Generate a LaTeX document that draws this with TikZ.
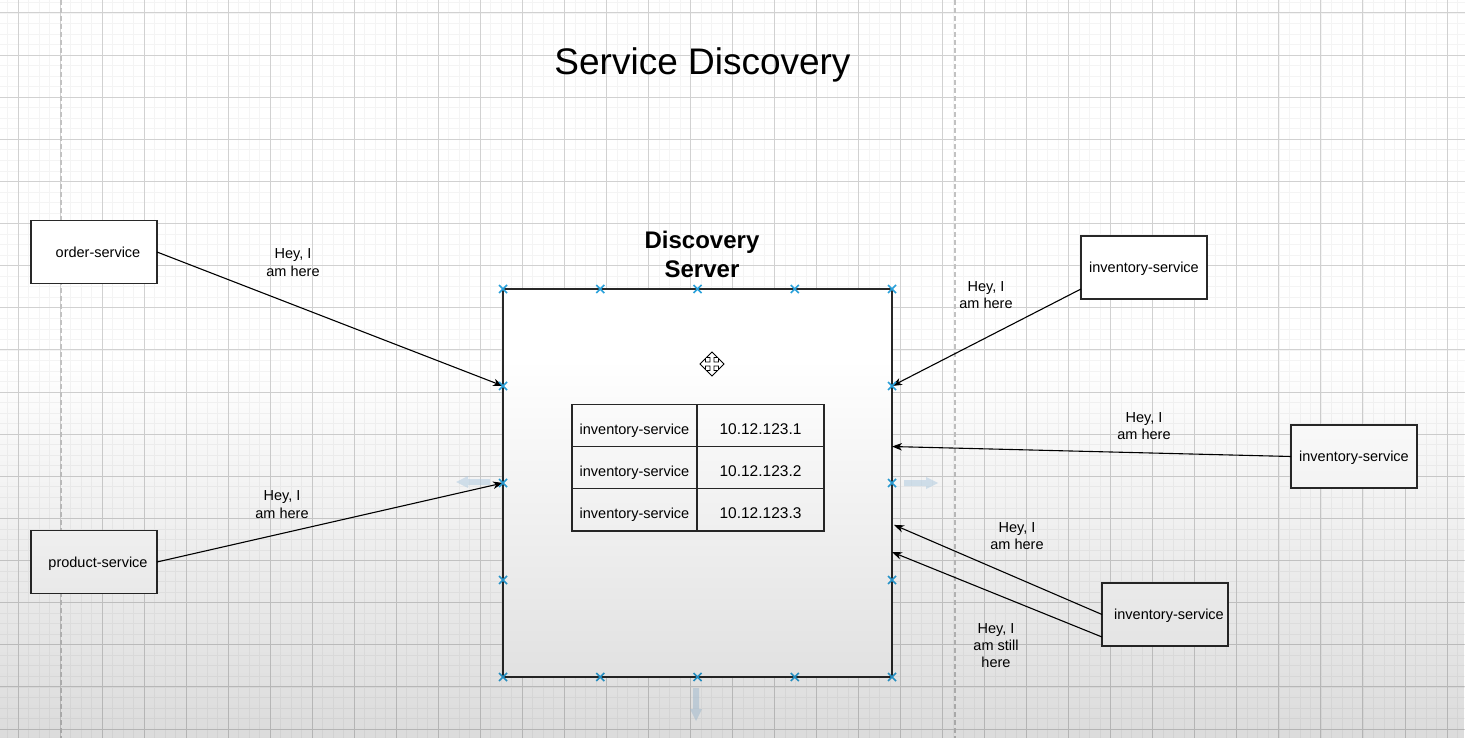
\documentclass[tikz,border=0pt]{standalone}
\usepackage{fontspec}
\setmainfont{Liberation Sans}
\usetikzlibrary{calc,arrows.meta,fadings}

\definecolor{markblue}{RGB}{41,160,218}
\definecolor{hoverblue}{RGB}{186,214,236}
\definecolor{edgegray}{RGB}{40,40,40}

% soft shade that darkens the lower part of the canvas
\tikzfading[name=shadebottom, top color=transparent!100, bottom color=transparent!86]

\tikzset{
  gridminor/.style={draw=black!4.5, line width=0.8pt},
  gridmajor/.style={draw=black!18, line width=1pt},
  pageline/.style={draw=black!24, line width=1.5pt, dash pattern=on 5pt off 3pt},
  svc/.style={draw=edgegray, line width=1.3pt, fill=white, minimum width=126pt,
    minimum height=63pt, inner sep=0pt, outer sep=0pt,
    font=\fontsize{14.5}{17.4}\selectfont, text height=10.5pt, text depth=0pt},
  serverbox/.style={draw=edgegray, line width=1.3pt, fill=white, minimum width=389pt,
    minimum height=388pt, inner sep=0pt, outer sep=0pt},
  cell/.style={draw=edgegray, line width=1.3pt, fill=white, minimum height=42.2pt,
    inner sep=0pt, outer sep=0pt, font=\fontsize{14.5}{17.4}\selectfont,
    text height=18pt, text depth=0pt},
  ipcell/.style={font=\fontsize{15.5}{18}\selectfont},
  lbl/.style={anchor=north, align=center, inner sep=0pt,
    font=\fontsize{14.5}{17.4}\selectfont},
  conn/.style={draw=black, line width=1.1pt,
    -{Stealth[length=10pt,width=7.5pt,inset=3pt]}},
  xmark/.style={draw=markblue, line width=1.5pt},
  hover/.style={fill=hoverblue, fill opacity=0.55},
}

\begin{document}
\begin{tikzpicture}[x=1pt,y=-1pt]
\useasboundingbox (0,0) rectangle (1465,738);
\fill[white] (0,0) rectangle (1465,738);

% canvas grid
\begin{scope}
  \clip (0,0) rectangle (1465,738);
  \foreach \i in {-2,...,138} \draw[gridminor] ({18+10.5075*\i},0) -- ++(0,738);
  \foreach \j in {-2,...,69} \draw[gridminor] (0,{13+10.53*\j}) -- ++(1465,0);
  \foreach \i in {0,...,34} \draw[gridmajor] ({18+42.03*\i},0) -- ++(0,738);
  \foreach \j in {0,...,17} \draw[gridmajor] (0,{13+42.12*\j}) -- ++(1465,0);
  \draw[pageline] (61,0) -- (61,738);
  \draw[pageline] (955,0) -- (955,738);
\end{scope}

% discovery server with its registry table
\node[serverbox] (server) at (697.5,483) {};
\node[cell, minimum width=125pt] (n1) at (634.5,425.4) {inventory-service};
\node[cell, ipcell, minimum width=127pt] (a1) at (760.5,425.4) {10.12.123.1};
\node[cell, minimum width=125pt] (n2) at (634.5,467.6) {inventory-service};
\node[cell, ipcell, minimum width=127pt] (a2) at (760.5,467.6) {10.12.123.2};
\node[cell, minimum width=125pt] (n3) at (634.5,509.8) {inventory-service};
\node[cell, ipcell, minimum width=127pt] (a3) at (760.5,509.8) {10.12.123.3};

% move cursor
\begin{scope}[shift={(712,364)}]
  \draw[fill=white, draw=black, line width=0.9pt, line join=miter]
    (0,-12) -- (5.5,-6.5) -- (2,-6.5) -- (2,-2) -- (6.5,-2) -- (6.5,-5.5) -- (12,0) -- (6.5,5.5)
    -- (6.5,2) -- (2,2) -- (2,6.5) -- (5.5,6.5) -- (0,12) -- (-5.5,6.5) -- (-2,6.5) -- (-2,2)
    -- (-6.5,2) -- (-6.5,5.5) -- (-12,0) -- (-6.5,-5.5) -- (-6.5,-2) -- (-2,-2) -- (-2,-6.5)
    -- (-5.5,-6.5) -- cycle;
\end{scope}

% hover arrows around the selection
\fill[hover] (456,482) -- (468,476) -- (468,479) -- (490,479) -- (490,485) -- (468,485) -- (468,488) -- cycle;
\fill[hover] (938,483) -- (926,477) -- (926,480) -- (904,480) -- (904,486) -- (926,486) -- (926,489) -- cycle;
\fill[hover] (696,721) -- (690,709) -- (693,709) -- (693,688) -- (699,688) -- (699,709) -- (702,709) -- cycle;

% services
\node[svc] (order) at (94,252) {\hspace*{8pt}order-service};
\node[svc] (product) at (94,562) {\hspace*{8pt}product-service};
\node[svc] (inv1) at (1144,267.5) {inventory-service};
\node[svc] (inv2) at (1354,456.5) {inventory-service};
\node[svc] (inv3) at (1165,614.5) {\hspace*{8pt}inventory-service};

% registrations and heartbeats
\draw[conn] (order.east) -- ($(server.north west)!0.25!(server.south west)$);
\draw[conn] (product.east) -- (server.west);
\draw[conn] ($(inv1.south west)+(0,-10)$) -- ($(server.north east)!0.25!(server.south east)$);
\draw[conn] (inv2.west) -- ($(server.north east)!0.406!(server.south east)$);
\draw[conn] (inv3.west) -- ($(server.north east)!0.608!(server.south east)+(2,0)$);
\draw[conn] ($(inv3.south west)+(0,-9)$) -- ($(server.north east)!0.678!(server.south east)$);

% connection points on the server outline
\foreach \f in {0,0.25,0.5,0.75,1}{
  \draw[xmark] ($(server.north west)!\f!(server.north east)$) +(-4,-4) -- +(4,4) +(-4,4) -- +(4,-4);
  \draw[xmark] ($(server.south west)!\f!(server.south east)$) +(-4,-4) -- +(4,4) +(-4,4) -- +(4,-4);
}
\foreach \f in {0.25,0.5,0.75}{
  \draw[xmark] ($(server.north west)!\f!(server.south west)$) +(-4,-4) -- +(4,4) +(-4,4) -- +(4,-4);
  \draw[xmark] ($(server.north east)!\f!(server.south east)$) +(-4,-4) -- +(4,4) +(-4,4) -- +(4,-4);
}

% message labels
\node[lbl] (say1) at (293,248.5) {Hey, I\\am here};
\node[lbl] (say2) at (282,490.5) {Hey, I\\am here};
\node[lbl] (say3) at (986,281) {Hey, I\\am here};
\node[lbl] (say4) at (1144,412) {Hey, I\\am here};
\node[lbl] (say5) at (1017,522) {Hey, I\\am here};
\node[lbl] (say6) at (996,623) {Hey, I\\am still\\here};

% titles
\node[anchor=base, inner sep=0pt, font=\fontsize{37}{44}\selectfont] (title) at (702.5,75) {Service Discovery};
\node[anchor=north, align=center, inner sep=0pt, font=\fontsize{24}{29}\selectfont\bfseries] (servername) at (702,230.5) {Discovery\\Server};

% shading over the lower canvas
\fill[black, path fading=shadebottom] (0,360) rectangle (1465,738);
\end{tikzpicture}
\end{document}
